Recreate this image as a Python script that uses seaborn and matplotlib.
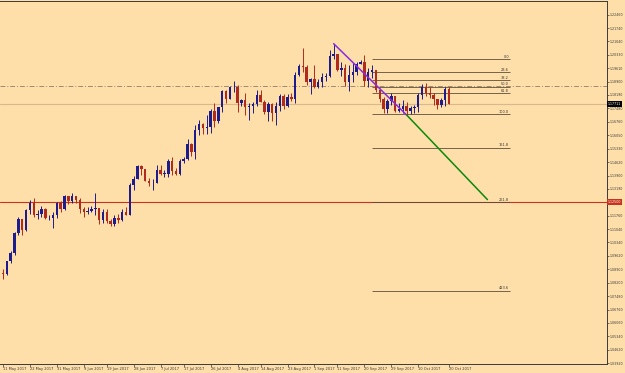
import numpy as np
import pandas as pd
import matplotlib
matplotlib.use("Agg")
import matplotlib.pyplot as plt
import matplotlib.transforms as mtransforms
import seaborn as sns

# ---------------- data ----------------
dates = pd.bdate_range("2017-05-11", "2017-10-20")

opens = [1.0873, 1.0864, 1.0933, 1.0980, 1.1084, 1.1158, 1.1101, 1.1206, 1.1243, 1.1181,
         1.1183, 1.1211, 1.1163, 1.1163, 1.1182, 1.1243, 1.1214, 1.1281, 1.1253, 1.1279,
         1.1260, 1.1211, 1.1196, 1.1200, 1.1211, 1.1218, 1.1152, 1.1197, 1.1146, 1.1133,
         1.1166, 1.1151, 1.1196, 1.1181, 1.1338, 1.1374, 1.1443, 1.1426, 1.1362, 1.1350,
         1.1351, 1.1422, 1.1400, 1.1400, 1.1465, 1.1413, 1.1399, 1.1470, 1.1477, 1.1557,
         1.1515, 1.1633, 1.1665, 1.1641, 1.1649, 1.1733, 1.1678, 1.1753, 1.1838, 1.1800,
         1.1859, 1.1860, 1.1774, 1.1793, 1.1755, 1.1760, 1.1770, 1.1820, 1.1782, 1.1730,
         1.1770, 1.1724, 1.1761, 1.1814, 1.1762, 1.1807, 1.1798, 1.1923, 1.1975, 1.1968,
         1.1887, 1.1906, 1.1860, 1.1888, 1.1915, 1.1920, 1.2024, 1.2035, 1.1950, 1.1965,
         1.1888, 1.1923, 1.1943, 1.1984, 1.1995, 1.1893, 1.1940, 1.1950, 1.1845, 1.1795,
         1.1744, 1.1785, 1.1814, 1.1732, 1.1746, 1.1760, 1.1736, 1.1749, 1.1757, 1.1819,
         1.1862, 1.1830, 1.1820, 1.1795, 1.1766, 1.1790, 1.1848]
highs = [1.0890, 1.0935, 1.0990, 1.1092, 1.1172, 1.1160, 1.1212, 1.1260, 1.1268, 1.1208,
         1.1226, 1.1217, 1.1180, 1.1194, 1.1250, 1.1255, 1.1285, 1.1283, 1.1296, 1.1282,
         1.1269, 1.1224, 1.1222, 1.1227, 1.1296, 1.1218, 1.1212, 1.1212, 1.1159, 1.1180,
         1.1184, 1.1211, 1.1220, 1.1348, 1.1389, 1.1446, 1.1446, 1.1426, 1.1377, 1.1369,
         1.1446, 1.1446, 1.1419, 1.1477, 1.1490, 1.1431, 1.1479, 1.1491, 1.1583, 1.1562,
         1.1658, 1.1683, 1.1668, 1.1712, 1.1742, 1.1777, 1.1756, 1.1846, 1.1845, 1.1868,
         1.1893, 1.1871, 1.1800, 1.1829, 1.1776, 1.1780, 1.1846, 1.1844, 1.1792, 1.1779,
         1.1774, 1.1781, 1.1826, 1.1822, 1.1823, 1.1829, 1.1940, 1.1982, 1.2070, 1.1980,
         1.1910, 1.1980, 1.1902, 1.1937, 1.1938, 1.2060, 1.2092, 1.2035, 1.1996, 1.1985,
         1.1978, 1.1990, 1.1995, 1.2007, 1.2034, 1.1960, 1.1981, 1.1951, 1.1857, 1.1807,
         1.1800, 1.1832, 1.1816, 1.1776, 1.1790, 1.1779, 1.1762, 1.1765, 1.1830, 1.1875,
         1.1880, 1.1860, 1.1831, 1.1800, 1.1801, 1.1861, 1.1860]
lows = [1.0839, 1.0860, 1.0923, 1.0968, 1.1076, 1.1075, 1.1095, 1.1188, 1.1167, 1.1161,
        1.1170, 1.1160, 1.1151, 1.1109, 1.1166, 1.1198, 1.1208, 1.1237, 1.1244, 1.1244,
        1.1192, 1.1172, 1.1185, 1.1194, 1.1180, 1.1131, 1.1138, 1.1140, 1.1120, 1.1120,
        1.1139, 1.1149, 1.1180, 1.1178, 1.1312, 1.1369, 1.1393, 1.1360, 1.1337, 1.1312,
        1.1350, 1.1393, 1.1382, 1.1381, 1.1392, 1.1391, 1.1395, 1.1457, 1.1475, 1.1496,
        1.1479, 1.1606, 1.1612, 1.1612, 1.1617, 1.1651, 1.1668, 1.1726, 1.1774, 1.1795,
        1.1834, 1.1728, 1.1762, 1.1712, 1.1688, 1.1725, 1.1759, 1.1779, 1.1715, 1.1681,
        1.1681, 1.1661, 1.1731, 1.1743, 1.1755, 1.1785, 1.1774, 1.1919, 1.1940, 1.1870,
        1.1823, 1.1857, 1.1856, 1.1862, 1.1895, 1.1917, 1.2011, 1.1946, 1.1922, 1.1869,
        1.1838, 1.1890, 1.1924, 1.1983, 1.1864, 1.1861, 1.1908, 1.1836, 1.1779, 1.1722,
        1.1724, 1.1767, 1.1726, 1.1729, 1.1725, 1.1712, 1.1716, 1.1722, 1.1729, 1.1797,
        1.1812, 1.1802, 1.1768, 1.1745, 1.1755, 1.1762, 1.1769]
closes = [1.0864, 1.0933, 1.0980, 1.1084, 1.1158, 1.1101, 1.1206, 1.1243, 1.1181, 1.1183,
          1.1211, 1.1163, 1.1163, 1.1182, 1.1243, 1.1214, 1.1281, 1.1253, 1.1279, 1.1260,
          1.1211, 1.1196, 1.1200, 1.1211, 1.1218, 1.1152, 1.1197, 1.1146, 1.1133, 1.1166,
          1.1151, 1.1196, 1.1181, 1.1338, 1.1374, 1.1443, 1.1426, 1.1362, 1.1350, 1.1351,
          1.1422, 1.1400, 1.1400, 1.1465, 1.1413, 1.1399, 1.1470, 1.1477, 1.1557, 1.1515,
          1.1633, 1.1665, 1.1641, 1.1649, 1.1733, 1.1678, 1.1753, 1.1838, 1.1800, 1.1859,
          1.1860, 1.1774, 1.1793, 1.1755, 1.1760, 1.1770, 1.1820, 1.1782, 1.1730, 1.1770,
          1.1724, 1.1761, 1.1814, 1.1762, 1.1807, 1.1798, 1.1923, 1.1975, 1.1968, 1.1887,
          1.1906, 1.1860, 1.1888, 1.1915, 1.1920, 1.2024, 1.2035, 1.1950, 1.1965, 1.1888,
          1.1923, 1.1943, 1.1984, 1.1995, 1.1893, 1.1940, 1.1950, 1.1845, 1.1795, 1.1744,
          1.1785, 1.1814, 1.1732, 1.1746, 1.1760, 1.1736, 1.1749, 1.1757, 1.1819, 1.1862,
          1.1830, 1.1820, 1.1795, 1.1766, 1.1790, 1.1848, 1.1772]

date_labels = ["11 May 2017", "22 May 2017", "31 May 2017", "9 Jun 2017", "19 Jun 2017",
               "28 Jun 2017", "7 Jul 2017", "17 Jul 2017", "26 Jul 2017", "4 Aug 2017",
               "14 Aug 2017", "23 Aug 2017", "1 Sep 2017", "11 Sep 2017", "20 Sep 2017",
               "29 Sep 2017", "10 Oct 2017", "20 Oct 2017"]

price_ticks = [1.22460, 1.21740, 1.21040, 1.20330, 1.19610, 1.18900, 1.18190, 1.17480,
               1.16760, 1.16050, 1.15330, 1.14620, 1.13900, 1.13190, 1.12480, 1.11760,
               1.11040, 1.10340, 1.09620, 1.08900, 1.08200, 1.07480, 1.06760, 1.06060,
               1.05340, 1.04620, 1.03920]

bid_price = 1.17711
red_level = 1.12500
dashdot_level = 1.18670

fib_high = 1.20090
fib_low = 1.17180
fib_ratios = [0.0, 0.236, 0.382, 0.5, 0.618, 1.0, 1.618, 2.618, 4.236]
fib_names = ["0.0", "23.6", "38.2", "50.0", "61.8", "100.0", "161.8", "261.8", "423.6"]
fib_start_date, fib_end_date = "2017-09-22", "2017-11-13"

trend_purple = (["2017-09-08", "2017-10-05"], [1.2092, 1.1712])
trend_green = (["2017-10-05", "2017-11-03"], [1.1712, 1.1262])

# ---------------- style ----------------
BG = "#FEDFAA"
BULL = "#1c1c8c"
BEAR = "#b02a1e"
RED = "#c8321e"
sns.set_theme(style="ticks", rc={"axes.facecolor": BG, "figure.facecolor": BG,
                                 "axes.edgecolor": "#3a3a3a", "axes.linewidth": 0.7})
plt.rcParams["font.family"] = ["DejaVu Sans"]

fig = plt.figure(figsize=(6.25, 3.73), dpi=100)
ax = fig.add_axes([0.0, 9 / 373, 607 / 625, 363 / 373])

df = pd.DataFrame({"date": dates, "o": opens, "h": highs, "l": lows, "c": closes})
df["i"] = np.arange(len(df))
pos = {d: i for i, d in enumerate(df["date"])}
full_days = list(pd.bdate_range("2017-05-11", "2017-12-31"))
def xi(d):
    return full_days.index(pd.Timestamp(d))

up = df["c"] >= df["o"]
cols = np.where(up, BULL, BEAR)
ax.vlines(df["i"], df["l"], df["h"], colors=cols, lw=0.7, zorder=3)
bottom = np.minimum(df["o"], df["c"])
height = np.maximum((df["c"] - df["o"]).abs(), 0.00028)
ax.bar(df["i"], height, bottom=bottom, width=0.64, color=cols, linewidth=0, zorder=4)

# horizontal lines
ax.axhline(dashdot_level, color="#9c8a70", lw=0.7, ls=(0, (5, 2, 1, 2)), zorder=2)
ax.axhline(bid_price, color="#d9b889", lw=0.8, zorder=2)
ax.axhline(red_level, color=RED, lw=0.8, zorder=2)

# fibonacci
x0, x1 = xi(fib_start_date), xi(fib_end_date)
for r, name in zip(fib_ratios, fib_names):
    lvl = fib_high - r * (fib_high - fib_low)
    ax.hlines(lvl, x0, x1, color="#5d4e3c", lw=0.6, zorder=2)
    ax.text(x1 - 0.4, lvl + 0.0002, name, ha="right", va="bottom", fontsize=2.5,
            color="#333333", zorder=5)

# trend lines
ax.plot([xi(d) for d in trend_purple[0]], trend_purple[1], color="#8a2be2", lw=1.1, zorder=5)
ax.plot([xi(d) for d in trend_green[0]], trend_green[1], color="#0a8a0a", lw=1.1, zorder=5)

# axes
ax.set_xlim(-0.78, 157.1)
ax.set_ylim(1.0387, 1.2319)
ax.yaxis.tick_right()
ax.set_yticks(price_ticks)
ax.set_yticklabels(["" if abs(p - red_level) < 0.0006 else f"{p:.5f}" for p in price_ticks])
ax.set_xticks([pos[pd.Timestamp(d)] for d in pd.to_datetime(date_labels, format="%d %b %Y")])
ax.set_xticklabels(date_labels, ha="left")
ax.tick_params(axis="y", labelsize=2.35, length=1.5, width=0.5, pad=0.6, colors="#3a3a3a")
ax.tick_params(axis="x", labelsize=2.6, length=1.8, width=0.5, pad=0.6, colors="#3a3a3a")
ax.spines["left"].set_visible(False)

blend = mtransforms.blended_transform_factory(ax.transAxes, ax.transData)
ax.text(1.0015, bid_price, f"{bid_price:.5f}", transform=blend, ha="left", va="center",
        fontsize=2.35, color="white", clip_on=False, zorder=10,
        bbox=dict(boxstyle="square,pad=0.3", fc="black", ec="none"))
ax.text(1.0015, red_level, f"{red_level:.5f}", transform=blend, ha="left", va="center",
        fontsize=2.35, color="white", clip_on=False, zorder=10,
        bbox=dict(boxstyle="square,pad=0.3", fc=RED, ec="none"))

fig.savefig("out.png", dpi=100, facecolor=BG)
